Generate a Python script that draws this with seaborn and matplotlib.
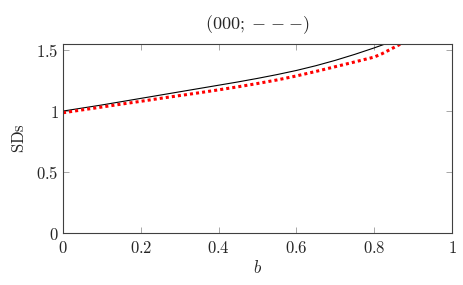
import matplotlib
matplotlib.use("Agg")
import matplotlib.pyplot as plt
import seaborn as sns

# -------------------------------
# DATA
# -------------------------------

b_black = [0.00, 0.05, 0.10, 0.15, 0.20, 0.25, 0.30, 0.35, 0.40, 0.45,
           0.50, 0.55, 0.60, 0.65, 0.70, 0.75, 0.80, 0.85]
sd_black = [1.000, 1.025, 1.050, 1.077, 1.104, 1.131, 1.158, 1.185, 1.212, 1.239,
            1.268, 1.299, 1.333, 1.372, 1.416, 1.465, 1.518, 1.575]

b_red = [0.00, 0.05, 0.10, 0.15, 0.20, 0.25, 0.30, 0.35, 0.40, 0.45,
         0.50, 0.55, 0.60, 0.65, 0.70, 0.75, 0.80, 0.82, 0.85, 0.88]
sd_red = [0.986, 1.010, 1.033, 1.057, 1.080, 1.104, 1.127, 1.150, 1.174, 1.199,
          1.226, 1.255, 1.288, 1.325, 1.364, 1.403, 1.443, 1.470, 1.520, 1.570]

x_ticks = [0, 0.2, 0.4, 0.6, 0.8, 1]
x_tick_labels = ["0", "0.2", "0.4", "0.6", "0.8", "1"]
y_ticks = [0, 0.5, 1, 1.5]
y_tick_labels = ["0", "0.5", "1", "1.5"]

# -------------------------------
# STYLE
# -------------------------------

sns.set_theme(style="ticks")
plt.rcParams["font.family"] = ["DejaVu Serif"]
plt.rcParams["mathtext.fontset"] = "cm"

fig = plt.figure(figsize=(4.64, 2.85), dpi=100)
ax = fig.add_axes([63 / 464, 1 - 233 / 285, (452 - 63) / 464, (233 - 44) / 285])

# -------------------------------
# PLOT
# -------------------------------

sns.lineplot(x=b_black, y=sd_black, ax=ax, color="black", linewidth=0.8)
sns.lineplot(x=b_red, y=sd_red, ax=ax, color="red", linewidth=2.2,
             linestyle=(0, (1, 1)))

ax.set_xlim(0, 1)
ax.set_ylim(0, 1.55)

ax.set_xticks(x_ticks)
ax.set_xticklabels([f"${t}$" for t in x_tick_labels], fontsize=12)
ax.set_yticks(y_ticks)
ax.set_yticklabels([f"${t}$" for t in y_tick_labels], fontsize=12)

ax.tick_params(direction="in", length=4, width=0.6, color="0.6",
               top=True, right=True, pad=3)
ax.tick_params(axis="x", pad=5)

for s in ax.spines.values():
    s.set_linewidth(0.8)
    s.set_color("0.25")

ax.set_xlabel(r"$b$", fontsize=12, labelpad=2)
ax.set_ylabel(r"$\mathrm{SDs}$", fontsize=12, labelpad=6)
ax.set_title(r"$(000;\;{-}\;{-}\;{-})$", fontsize=13, pad=11)

fig.savefig("out.png", dpi=100)
